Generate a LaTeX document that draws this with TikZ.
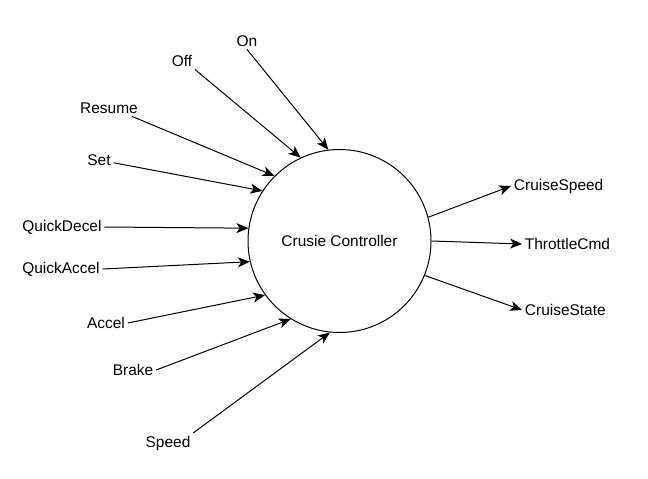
\documentclass[tikz,border=0pt]{standalone}
\usepackage{fontspec}
\setmainfont{Liberation Sans}
\usetikzlibrary{arrows.meta}
\begin{document}
\begin{tikzpicture}[x=0.75pt, y=-0.75pt,
                    lbl/.style={inner sep=2pt, font=\fontsize{11.6}{14}\selectfont},
                    flow/.style={-{Stealth[length=9pt, width=7.5pt, inset=2.5pt]}, line width=0.75pt}]
                    \useasboundingbox (0, 0) rectangle (648, 478);
                    \node[draw, circle, line width=0.75pt, minimum size=137.25pt, inner sep=0pt,
                          font=\fontsize{11.6}{14}\selectfont] (ctrl) at (339.5, 241){Crusie Controller};
                    % inputs
                    \node[lbl] (on) at (247, 41){On};
                    \node[lbl] (off) at (182, 61){Off};
                    \node[lbl] (resume) at (109, 108){Resume};
                    \node[lbl] (set) at (99, 160){Set};
                    \node[lbl] (qdecel) at (62, 227){QuickDecel};
                    \node[lbl] (qaccel) at (61, 269){QuickAccel};
                    \node[lbl] (accel) at (106, 323){Accel};
                    \node[lbl] (brake) at (133, 370){Brake};
                    \node[lbl] (speed) at (168, 443){Speed};
                    % outputs
                    \node[lbl, anchor=west] (cspeed) at (511, 186){CruiseSpeed};
                    \node[lbl, anchor=west] (throttle) at (522, 244){ThrottleCmd};
                    \node[lbl, anchor=west] (cstate) at (522, 310){CruiseState};
                    \draw[flow] (on.south) to (ctrl.97);
                    \draw[flow] (off.south east) to (ctrl.115);
                    \draw[flow] (resume.-20) to (ctrl.135);
                    \draw[flow] (set) to (ctrl.147);
                    \draw[flow] (qdecel.east) to (ctrl.172);
                    \draw[flow] (qaccel.east) to (ctrl.193);
                    \draw[flow] (accel.east) to (ctrl.216);
                    \draw[flow] (brake.east) to (ctrl.238);
                    \draw[flow] (speed.north east) to (ctrl.264);
                    \draw[flow] (ctrl.15) to (cspeed.west);
                    \draw[flow] (ctrl.0) to (throttle.west);
                    \draw[flow] (ctrl.-22) to (cstate.west);
                \end{tikzpicture}
\end{document}
